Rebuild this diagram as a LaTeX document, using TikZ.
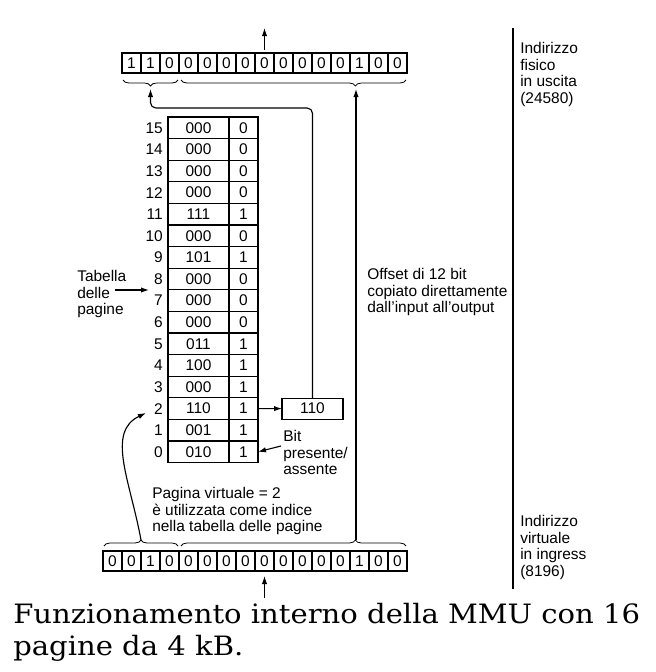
\documentclass[tikz,border=0pt]{standalone}
\usepackage{fontspec}
\setmainfont{Liberation Sans}
\newfontfamily\capfont[FakeStretch=1.09]{DejaVu Serif}
\usetikzlibrary{decorations.pathreplacing,arrows.meta,calc}
\tikzset{
  txt/.style={font=\fontsize{11.6}{12.5}\selectfont, inner sep=0pt},
  blk/.style={txt, align=left, anchor=north west},
  cell/.style={draw, line width=0.85pt, inner sep=0pt, outer sep=0pt, font=\fontsize{11.6}{12.5}\selectfont,
               minimum width=14.25pt, minimum height=15pt},
  fcell/.style={cell, minimum width=45.75pt, minimum height=16.2pt},
  bcell/.style={cell, minimum width=21.75pt, minimum height=16.2pt},
  arr/.style={line width=0.85pt, -{Latex[length=6pt,width=4pt]}},
  ln/.style={line width=0.85pt},
  brc/.style={line width=0.6pt, decorate, decoration={brace, amplitude=4.5pt}},
  captxt/.style={inner sep=0pt, anchor=base west, font=\capfont\fontsize{20}{24}\selectfont},
}
\begin{document}
\begin{tikzpicture}[x=0.75pt,y=-0.75pt]
\useasboundingbox (0,0) rectangle (656,672);

% output register (15 bits)
\foreach \b [count=\i from 0] in {1,1,0,0,0,0,0,0,0,0,0,0,1,0,0}
  \node[cell] (o\i) at (122+19*\i+9.5,63) {\b};
% input register (16 bits)
\foreach \b [count=\i from 0] in {0,0,1,0,0,0,0,0,0,0,0,0,0,1,0,0}
  \node[cell] (v\i) at (103+19*\i+9.5,561) {\b};

% braces
\draw[brc, decoration={mirror}] (123,80) -- (178,80);
\draw[brc, decoration={mirror, aspect=0.775}] (181,80) -- (406,80);
\draw[brc] (104,546) -- (178,546);
\draw[brc, decoration={aspect=0.775}] (181,546) -- (406,546);

\coordinate (tl) at (150.5,89);
\coordinate (tr) at (356,89);
\coordinate (bl) at (141,540);
\coordinate (br) at (356,540);

% page table
\foreach \r/\f/\p in {15/000/0,14/000/0,13/000/0,12/000/0,11/111/1,10/000/0,9/101/1,8/000/0,
                      7/000/0,6/000/0,5/011/1,4/100/1,3/000/1,2/110/1,1/001/1,0/010/1} {
  \pgfmathsetmacro{\yy}{117+21.6*(15-\r)+10.8}
  \node[fcell] (f\r) at (198.5,\yy) {\f};
  \node[bcell] (b\r) at (243.5,\yy) {\p};
  \node[txt, anchor=east] (l\r) at (163,\yy) {\r};
}

% physical frame box
\node[cell, minimum width=45.75pt, minimum height=15.75pt] (phys) at (312.5,408.6) {110};
\draw[arr] (b2.east) -- (phys.west);
\draw[arr, rounded corners=4pt] (phys.north) -- (phys.north |- 0,108) -- (tl |- 0,108) -- (tl);

% offset arrow
\draw[arr] (br) -- (tr);

% virtual page arrow
\coordinate (vp) at (146,413);
\draw[arr] (bl) .. controls (130,480) and (106,432) .. (vp);

% in/out arrows
\coordinate (otip) at (264.5,28);
\coordinate (itail) at (264.5,598);
\draw[arr] ($(o7.north)+(0,-3)$) -- (otip);
\draw[arr] (itail) -- ($(v8.south)+(0,5)$);

% separator
\coordinate (s1) at (513,28);
\coordinate (s2) at (513,589);
\draw[ln] (s1) -- (s2);

% labels
\node[blk] (outlbl) at (520,42) {Indirizzo\\fisico\\in uscita\\(24580)};
\node[blk] (inlbl) at (520,515) {Indirizzo\\virtuale\\in ingress\\(8196)};
\node[blk] (offlbl) at (367,268) {Offset di 12 bit\\copiato direttamente\\dall'input all'output};
\node[blk] (tablbl) at (77,270) {Tabella\\delle\\pagine};
\coordinate (tabs) at (115,290);
\coordinate (tabe) at (149,290);
\draw[arr] (tabs) -- (tabe);
\node[blk] (bitlbl) at (283,430) {Bit\\presente/\\assente};
\coordinate (bits) at (281,446);
\draw[arr] (bits) -- (b0.east);
\node[blk] (vplbl) at (152,487) {Pagina virtuale = 2\\è utilizzata come indice\\nella tabella delle pagine};

% caption
\node[captxt] (cap1) at (13,623) {Funzionamento interno della MMU con 16};
\node[captxt] (cap2) at (13,655) {pagine da 4 kB.};
\end{tikzpicture}
\end{document}
